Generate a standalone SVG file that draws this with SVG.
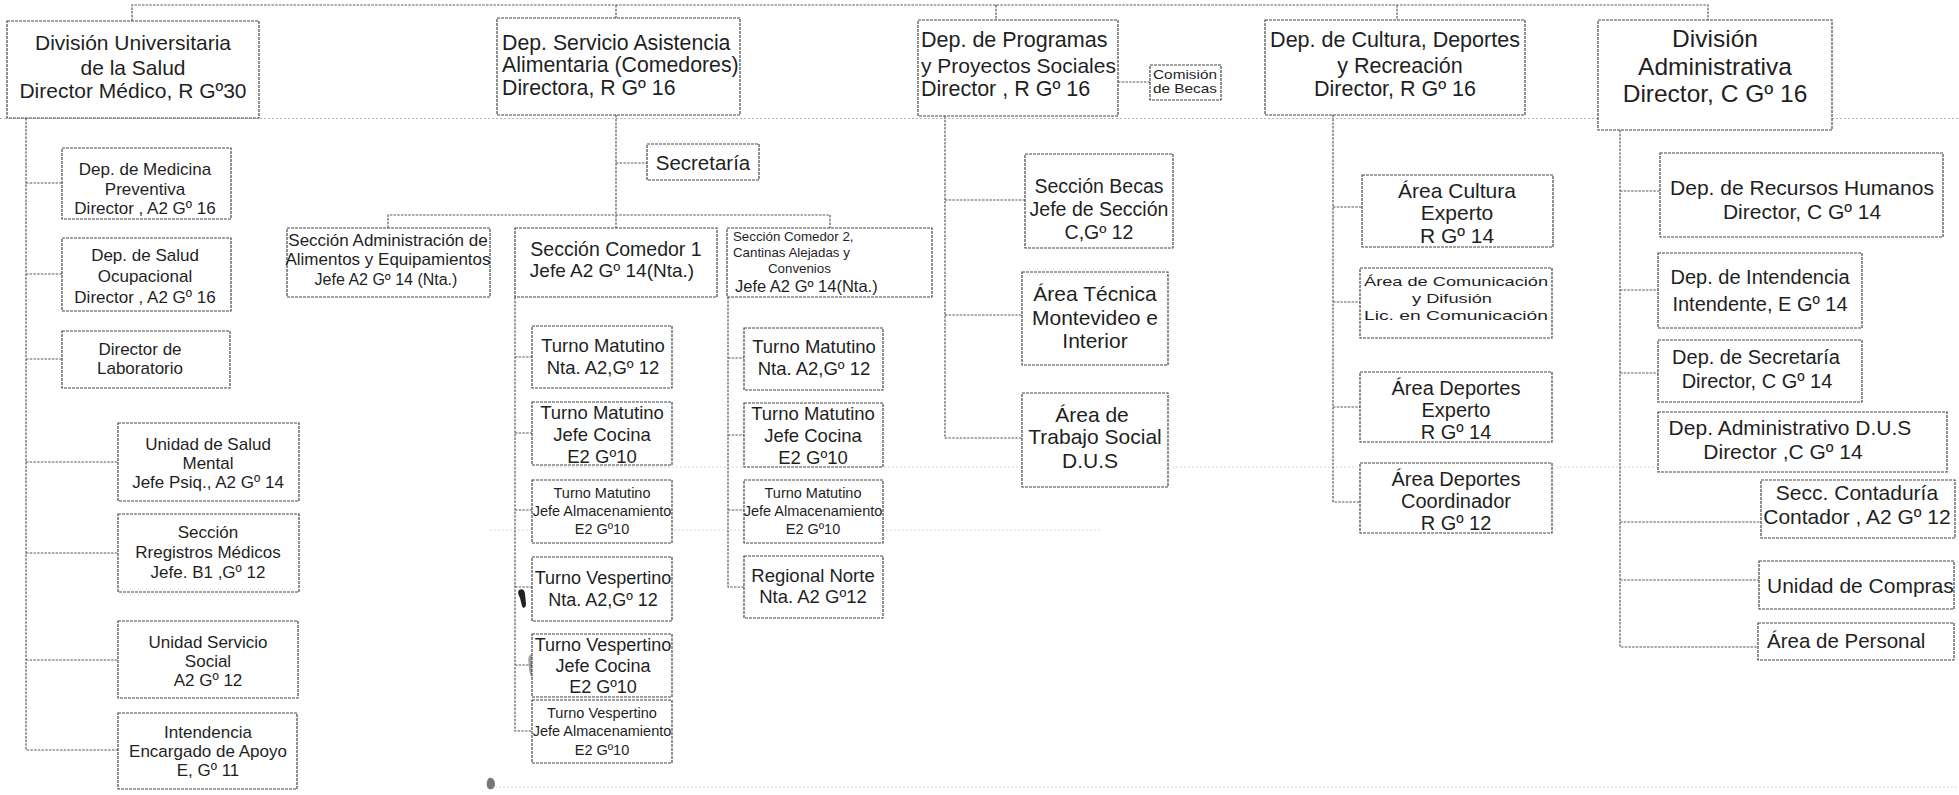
<svg xmlns="http://www.w3.org/2000/svg" width="1959" height="795" viewBox="0 0 1959 795">
<style>
.box{fill:#fff;stroke:#474747;stroke-width:1.2;stroke-dasharray:3 1}
.conn{fill:none;stroke:#5a5a5a;stroke-width:1.2;stroke-dasharray:2.5 1.2}
.art{fill:none;stroke:#b5b5b5;stroke-width:1;stroke-dasharray:2 2}
text{font-family:"Liberation Sans",Arial,sans-serif;fill:#1f1f1f}
.c{text-anchor:middle}
.f21{font-size:21px}.f20{font-size:20px}.f17{font-size:17px}.f18{font-size:18.5px}.f14{font-size:14.5px}
</style>
<rect width="1959" height="795" fill="#fff"/>
<g id="artifacts">
<path class="art" d="M0 118.5H1959"/>
<path class="art" style="stroke:#d8d8d8" d="M540 467H1660M490 530H1100M495 787H1959"/>
<path d="M519 590c3-2 6 0 6 4l1 10c0 4-3 5-4 2l-2-8c-1-3-3-5-1-8z" fill="#222"/>
<path d="M530 655c4-1 8 2 8 8s-1 12-4 14c-3 1-5-4-5-9s-2-11 1-13z" fill="#777" opacity="0.7"/>
<path d="M489 778c3-1 6 2 6 6s-3 6-6 5-3-9 0-11z" fill="#555" opacity="0.8"/>
</g>
<g id="connectors">
<path class="conn" d="M132 21V5H1708V20M616 5V18M996 5V20M1397 5V20"/>
<path class="conn" d="M26 118V750H118M26 183H62M26 274H62M26 359H62M26 462H118M26 553H118M26 660H118"/>
<path class="conn" d="M616 115V228M616 163H647M388 228V215H830V228"/>
<path class="conn" d="M515 297V731H532M515 357H532M515 433H532M515 510H532M515 587H532M515 665H532"/>
<path class="conn" d="M728 297V587H744M728 358H744M728 435H744M728 510H744"/>
<path class="conn" d="M1118 82H1150M945 116V438H1022M945 200H1025M945 315H1022"/>
<path class="conn" d="M1333 115V502H1360M1333 207H1362M1333 302H1360M1333 407H1360"/>
<path class="conn" d="M1620 130V647H1758M1620 191H1660M1620 290H1658M1620 373H1658M1620 522H1761M1620 580H1759"/>
</g>
<g id="n-dus"><rect class="box" x="7" y="21" width="252" height="97"/>
<text class="c f21" x="133" y="50">División Universitaria</text><text class="c f21" x="133" y="75">de la Salud</text><text class="c f21" x="133" y="98">Director Médico, R Gº30</text></g>
<g id="n-sala"><rect class="box" x="497" y="18" width="243" height="97"/>
<text style="font-size:21.3px" x="502" y="50">Dep. Servicio Asistencia</text><text style="font-size:21.3px" x="502" y="72">Alimentaria (Comedores)</text><text style="font-size:21.3px" x="502" y="95">Directora, R Gº 16</text></g>
<g id="n-prog"><rect class="box" x="918" y="20" width="200" height="96"/>
<text style="font-size:21.5px" x="921" y="47">Dep. de Programas</text><text style="font-size:21px" x="921" y="73">y Proyectos Sociales</text><text style="font-size:21.5px" x="921" y="96">Director , R Gº 16</text></g>
<g id="n-becas-com"><rect class="box" x="1150" y="65" width="71" height="35"/>
<text style="font-size:13px" x="1153" y="79" textLength="64" lengthAdjust="spacingAndGlyphs">Comisión</text><text style="font-size:13px" x="1153" y="93" textLength="64" lengthAdjust="spacingAndGlyphs">de Becas</text></g>
<g id="n-cult"><rect class="box" x="1265" y="20" width="260" height="95"/>
<text class="c" style="font-size:21.5px" x="1395" y="47">Dep. de Cultura, Deportes</text><text class="c" style="font-size:21.5px" x="1400" y="73">y Recreación</text><text class="c" style="font-size:21.5px" x="1395" y="96">Director, R Gº 16</text></g>
<g id="n-adm"><rect class="box" x="1598" y="20" width="234" height="110"/>
<text class="c" style="font-size:24.5px" x="1715" y="47">División</text><text class="c" style="font-size:24.5px" x="1715" y="75">Administrativa</text><text class="c" style="font-size:24.5px" x="1715" y="102">Director, C Gº 16</text></g>
<g id="n-medprev"><rect class="box" x="62" y="148" width="169" height="71"/>
<text class="c f17" x="145" y="175">Dep. de Medicina</text><text class="c f17" x="145" y="195">Preventiva</text><text class="c f17" x="145" y="214">Director , A2 Gº 16</text></g>
<g id="n-salocup"><rect class="box" x="62" y="238" width="169" height="73"/>
<text class="c f17" x="145" y="261">Dep. de Salud</text><text class="c f17" x="145" y="282">Ocupacional</text><text class="c f17" x="145" y="303">Director , A2 Gº 16</text></g>
<g id="n-lab"><rect class="box" x="62" y="331" width="168" height="57"/>
<text class="c f17" x="140" y="355">Director de</text><text class="c f17" x="140" y="374">Laboratorio</text></g>
<g id="n-mental"><rect class="box" x="118" y="423" width="181" height="78"/>
<text class="c f17" x="208" y="450">Unidad de Salud</text><text class="c f17" x="208" y="469">Mental</text><text class="c f17" x="208" y="488">Jefe Psiq., A2 Gº 14</text></g>
<g id="n-regmed"><rect class="box" x="118" y="514" width="181" height="78"/>
<text class="c f17" x="208" y="538">Sección</text><text class="c f17" x="208" y="558">Rregistros Médicos</text><text class="c f17" x="208" y="578">Jefe. B1 ,Gº 12</text></g>
<g id="n-servsoc"><rect class="box" x="118" y="621" width="180" height="77"/>
<text class="c f17" x="208" y="648">Unidad Servicio</text><text class="c f17" x="208" y="667">Social</text><text class="c f17" x="208" y="686">A2 Gº 12</text></g>
<g id="n-intend"><rect class="box" x="118" y="713" width="179" height="76"/>
<text class="c f17" x="208" y="738">Intendencia</text><text class="c f17" x="208" y="757">Encargado de Apoyo</text><text class="c f17" x="208" y="776">E, Gº 11</text></g>
<g id="n-secret"><rect class="box" x="647" y="144" width="112" height="36"/>
<text class="c" style="font-size:20.5px" x="703" y="170">Secretaría</text></g>
<g id="n-admalim"><rect class="box" x="287" y="228" width="203" height="69"/>
<text class="c f17" x="388" y="246">Sección Administración de</text><text class="c f17" x="388" y="265">Alimentos y Equipamientos</text><text class="c" style="font-size:16px" x="386" y="285">Jefe A2 Gº 14 (Nta.)</text></g>
<g id="n-com1"><rect class="box" x="515" y="228" width="202" height="69"/>
<text class="c" style="font-size:19.5px" x="616" y="256">Sección Comedor 1</text><text class="c" style="font-size:19px" x="612" y="277">Jefe A2 Gº 14(Nta.)</text></g>
<g id="n-com2"><rect class="box" x="727" y="228" width="205" height="69"/>
<text style="font-size:13.3px" x="733" y="241">Sección Comedor 2,</text><text style="font-size:13.3px" x="733" y="257">Cantinas Alejadas y</text><text style="font-size:13.3px" x="768" y="273">Convenios</text><text style="font-size:16.5px" x="735" y="292">Jefe A2 Gº 14(Nta.)</text></g>
<g id="n-c1-tm1"><rect class="box" x="532" y="326" width="140" height="62"/>
<text class="c f18" x="603" y="352">Turno Matutino</text><text class="c f18" x="603" y="374">Nta. A2,Gº 12</text></g>
<g id="n-c1-tm2"><rect class="box" x="532" y="402" width="140" height="63"/>
<text class="c f18" x="602" y="419">Turno Matutino</text><text class="c f18" x="602" y="441">Jefe Cocina</text><text class="c f18" x="602" y="463">E2 Gº10</text></g>
<g id="n-c1-tm3"><rect class="box" x="532" y="480" width="140" height="63"/>
<text class="c f14" x="602" y="498">Turno Matutino</text><text class="c f14" x="602" y="516">Jefe Almacenamiento</text><text class="c f14" x="602" y="534">E2 Gº10</text></g>
<g id="n-c1-tv1"><rect class="box" x="532" y="557" width="140" height="64"/>
<text class="c" style="font-size:18px" x="603" y="584">Turno Vespertino</text><text class="c" style="font-size:18px" x="603" y="606">Nta. A2,Gº 12</text></g>
<g id="n-c1-tv2"><rect class="box" x="532" y="634" width="140" height="63"/>
<text class="c" style="font-size:18px" x="603" y="651">Turno Vespertino</text><text class="c" style="font-size:18px" x="603" y="672">Jefe Cocina</text><text class="c" style="font-size:18px" x="603" y="693">E2 Gº10</text></g>
<g id="n-c1-tv3"><rect class="box" x="532" y="700" width="140" height="63"/>
<text class="c f14" x="602" y="718">Turno Vespertino</text><text class="c f14" x="602" y="736">Jefe Almacenamiento</text><text class="c f14" x="602" y="755">E2 Gº10</text></g>
<g id="n-c2-tm1"><rect class="box" x="744" y="328" width="139" height="62"/>
<text class="c f18" x="814" y="353">Turno Matutino</text><text class="c f18" x="814" y="375">Nta. A2,Gº 12</text></g>
<g id="n-c2-tm2"><rect class="box" x="744" y="403" width="139" height="64"/>
<text class="c f18" x="813" y="420">Turno Matutino</text><text class="c f18" x="813" y="442">Jefe Cocina</text><text class="c f18" x="813" y="464">E2 Gº10</text></g>
<g id="n-c2-tm3"><rect class="box" x="744" y="480" width="139" height="63"/>
<text class="c f14" x="813" y="498">Turno Matutino</text><text class="c f14" x="813" y="516">Jefe Almacenamiento</text><text class="c f14" x="813" y="534">E2 Gº10</text></g>
<g id="n-c2-norte"><rect class="box" x="744" y="556" width="139" height="62"/>
<text class="c f18" x="813" y="582">Regional Norte</text><text class="c f18" x="813" y="603">Nta. A2 Gº12</text></g>
<g id="n-secbecas"><rect class="box" x="1025" y="154" width="148" height="94"/>
<text class="c" style="font-size:19.5px" x="1099" y="193">Sección Becas</text><text class="c" style="font-size:19.5px" x="1099" y="216">Jefe de Sección</text><text class="c" style="font-size:19.5px" x="1099" y="239">C,Gº 12</text></g>
<g id="n-tecnica"><rect class="box" x="1022" y="272" width="146" height="93"/>
<text class="c f21" x="1095" y="301">Área Técnica</text><text class="c f21" x="1095" y="325">Montevideo e</text><text class="c f21" x="1095" y="348">Interior</text></g>
<g id="n-trabsoc"><rect class="box" x="1022" y="393" width="146" height="94"/>
<text class="c f21" x="1092" y="422">Área de</text><text class="c f21" x="1095" y="444">Trabajo Social</text><text class="c f21" x="1090" y="468">D.U.S</text></g>
<g id="n-cultura"><rect class="box" x="1362" y="175" width="191" height="72"/>
<text class="c f21" x="1457" y="198">Área Cultura</text><text class="c f21" x="1457" y="220">Experto</text><text class="c f21" x="1457" y="243">R Gº 14</text></g>
<g id="n-comunic"><rect class="box" x="1360" y="268" width="192" height="70"/>
<text style="font-size:13.5px" x="1364" y="286" textLength="184" lengthAdjust="spacingAndGlyphs">Área de Comunicación</text><text style="font-size:13.5px" x="1412" y="303" textLength="80" lengthAdjust="spacingAndGlyphs">y Difusión</text><text style="font-size:13.5px" x="1364" y="320" textLength="184" lengthAdjust="spacingAndGlyphs">Lic. en Comunicación</text></g>
<g id="n-depexp"><rect class="box" x="1360" y="372" width="192" height="70"/>
<text class="c f20" x="1456" y="395">Área Deportes</text><text class="c f20" x="1456" y="417">Experto</text><text class="c f20" x="1456" y="439">R Gº 14</text></g>
<g id="n-depcoord"><rect class="box" x="1360" y="463" width="192" height="70"/>
<text class="c f20" x="1456" y="486">Área Deportes</text><text class="c f20" x="1456" y="508">Coordinador</text><text class="c f20" x="1456" y="530">R Gº 12</text></g>
<g id="n-rrhh"><rect class="box" x="1660" y="153" width="283" height="84"/>
<text class="c f21" x="1802" y="195">Dep. de Recursos Humanos</text><text class="c f21" x="1802" y="219">Director, C Gº 14</text></g>
<g id="n-intendencia"><rect class="box" x="1658" y="253" width="204" height="75"/>
<text class="c f20" x="1760" y="284">Dep. de Intendencia</text><text class="c f20" x="1760" y="311">Intendente, E Gº 14</text></g>
<g id="n-secretaria"><rect class="box" x="1658" y="340" width="204" height="62"/>
<text class="c f20" x="1756" y="364">Dep. de Secretaría</text><text class="c f20" x="1757" y="388">Director, C Gº 14</text></g>
<g id="n-admdus"><rect class="box" x="1658" y="412" width="289" height="60"/>
<text class="c f21" x="1790" y="435">Dep. Administrativo D.U.S</text><text class="c f21" x="1783" y="459">Director ,C Gº 14</text></g>
<g id="n-contaduria"><rect class="box" x="1761" y="480" width="194" height="58"/>
<text class="c f21" x="1857" y="500">Secc. Contaduría</text><text class="c f21" x="1857" y="524">Contador , A2 Gº 12</text></g>
<g id="n-compras"><rect class="box" x="1759" y="561" width="195" height="48"/>
<text class="f21" x="1767" y="593">Unidad de Compras</text></g>
<g id="n-personal"><rect class="box" x="1758" y="623" width="196" height="37"/>
<text style="font-size:20.5px" x="1767" y="648">Área de Personal</text></g>
</svg>
